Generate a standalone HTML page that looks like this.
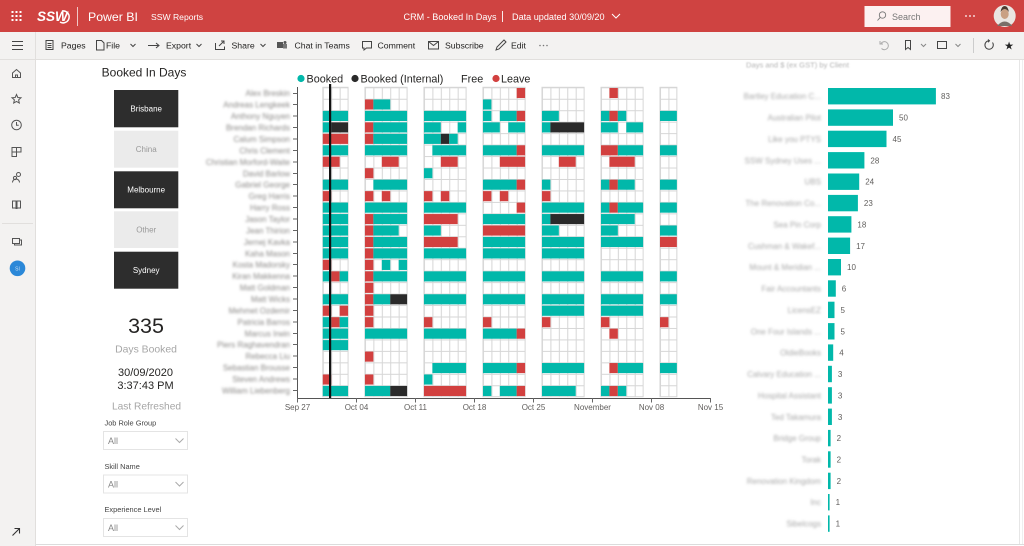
<!DOCTYPE html>
<html><head><meta charset="utf-8">
<style>
html,body{margin:0;padding:0;background:#fff;}
body{width:1024px;height:546px;overflow:hidden;position:relative;font-family:"Liberation Sans",sans-serif;}
svg{position:absolute;left:0;top:0;}
.t{fill:#01B8AA}.d{fill:#2a2a2a}.r{fill:#D2403F}
.tb{font-family:"Liberation Sans",sans-serif;font-size:8.7px;fill:#252423}
.nm{font-family:"Liberation Sans",sans-serif;font-size:8px;fill:#8a8886;text-anchor:end}
.ax{font-family:"Liberation Sans",sans-serif;font-size:8px;fill:#605e5c;text-anchor:middle}
.cl{font-family:"Liberation Sans",sans-serif;font-size:8px;fill:#a8a8a8;text-anchor:end}
.vl{font-family:"Liberation Sans",sans-serif;font-size:8px;fill:#605e5c}
.ic{fill:none;stroke:#444;stroke-width:1}
.nv{fill:none;stroke:#555;stroke-width:1}
</style></head>
<body>
<svg width="1024" height="546" viewBox="0 0 1024 546" xmlns="http://www.w3.org/2000/svg">
<defs>
<filter id="bl" x="-20%" y="-100%" width="140%" height="300%"><feGaussianBlur stdDeviation="1.25"/></filter>
<filter id="bl2" x="-20%" y="-100%" width="140%" height="300%"><feGaussianBlur stdDeviation="0.8"/></filter>
<pattern id="g" x="297.5" y="87.3" width="8.43" height="11.46" patternUnits="userSpaceOnUse">
<rect x="0" y="0" width="8.43" height="11.46" fill="#fff"/>
<path d="M0 0.5H8.43M0.5 0V11.46" stroke="#d6d6d6" stroke-width="1" fill="none"/>
</pattern>
</defs>

<rect x="0" y="0" width="1024" height="546" fill="#fff"/>

<!-- header -->
<rect x="0" y="0" width="1024" height="32" fill="#CF4341"/>
<g fill="#fff">
<rect x="11.5" y="11" width="2" height="2"/><rect x="15.5" y="11" width="2" height="2"/><rect x="19.5" y="11" width="2" height="2"/>
<rect x="11.5" y="15" width="2" height="2"/><rect x="15.5" y="15" width="2" height="2"/><rect x="19.5" y="15" width="2" height="2"/>
<rect x="11.5" y="19" width="2" height="2"/><rect x="15.5" y="19" width="2" height="2"/><rect x="19.5" y="19" width="2" height="2"/>
</g>
<text x="37" y="21" font-family="Liberation Sans" font-weight="bold" font-style="italic" font-size="13.5" fill="#fff">SSW</text>
<path d="M62 11 a6 6 0 1 1 -2 11" fill="none" stroke="#fff" stroke-width="1.5"/>
<line x1="77.5" y1="7" x2="77.5" y2="26" stroke="#fff" stroke-opacity="0.7"/>
<text x="88" y="21" font-family="Liberation Sans" font-size="12.3" fill="#fff">Power BI</text>
<text x="151" y="19.8" font-family="Liberation Sans" font-size="8.6" fill="#fff">SSW Reports</text>
<text x="403.5" y="19.8" font-family="Liberation Sans" font-size="9.1" fill="#fff">CRM - Booked In Days</text>
<line x1="502.5" y1="11" x2="502.5" y2="22" stroke="#fff" stroke-width="0.9"/>
<text x="512" y="19.8" font-family="Liberation Sans" font-size="9.1" fill="#fff">Data updated 30/09/20</text>
<polyline points="612,14 616,18 620,14" fill="none" stroke="#fff" stroke-width="1"/>
<rect x="864.5" y="6" width="86" height="21" fill="#fcf1f1"/>
<circle cx="882.5" cy="15" r="3.2" fill="none" stroke="#777" stroke-width="0.9"/>
<line x1="880.2" y1="17.4" x2="877.5" y2="20.5" stroke="#777" stroke-width="0.9"/>
<text x="892" y="19.8" font-family="Liberation Sans" font-size="9" fill="#777">Search</text>
<g fill="#fff"><circle cx="966" cy="16" r="0.9"/><circle cx="970" cy="16" r="0.9"/><circle cx="974" cy="16" r="0.9"/></g>
<circle cx="1004.7" cy="16" r="11" fill="#eae6e2"/>
<ellipse cx="1004.7" cy="14" rx="4" ry="5" fill="#c9a083"/>
<path d="M1000.5 12 q4.2 -6 8.4 0 q-1 -6 -4.2 -6 q-3.2 0 -4.2 6z" fill="#4a3a30"/>
<path d="M997 26 q7.7 -9 15.4 0z" fill="#7a6f68"/>

<!-- toolbar -->
<rect x="0" y="32" width="1024" height="27" fill="#f3f2f1"/>
<line x1="0" y1="59.5" x2="1024" y2="59.5" stroke="#e1dfdd"/>
<g class="ic">
<path d="M12 41.5H23M12 45.5H23M12 49.5H23"/>
<rect x="46" y="40.5" width="7" height="9"/><path d="M47.5 43.5h4M47.5 45.5h4M47.5 47.5h4"/>
<path d="M96.5 40.5h5l2.5 2.5v7h-7.5z"/>
<polyline points="130.5,44 133,46.5 135.5,44"/>
<path d="M148 45.5h11M156 43l3 2.5-3 2.5" /><path d="M148 45.5h2"/>
<polyline points="196.5,44 199,46.5 201.5,44"/>
<path d="M215.5 43v6.5h9v-3M219 46l5-5M221 41h3v3"/>
<polyline points="260.5,44 263,46.5 265.5,44"/>
<rect x="277" y="42" width="6" height="6" fill="#555" stroke="none"/><circle cx="285" cy="42.5" r="1.5" fill="#555" stroke="none"/><rect x="283" y="44" width="4" height="4.5" fill="#777" stroke="none"/>
<path d="M362.5 41.5h9v6.5h-5l-2.5 2v-2h-1.5z"/>
<rect x="428.5" y="41.5" width="10" height="7.5"/><path d="M428.5 41.5l5 4 5-4"/>
<path d="M496 50l1-3 7-7 2 2-7 7z"/>
</g>
<text class="tb" x="61" y="48.3">Pages</text>
<text class="tb" x="106" y="48.3">File</text>
<text class="tb" x="166" y="48.3">Export</text>
<text class="tb" x="231.5" y="48.3">Share</text>
<text class="tb" x="294.5" y="48.3">Chat in Teams</text>
<text class="tb" x="377.5" y="48.3">Comment</text>
<text class="tb" x="445" y="48.3">Subscribe</text>
<text class="tb" x="511" y="48.3">Edit</text>
<g fill="#777"><circle cx="540" cy="45.5" r="0.8"/><circle cx="543.5" cy="45.5" r="0.8"/><circle cx="547" cy="45.5" r="0.8"/></g>
<g class="ic">
<path d="M881 43.5a4 4 0 1 1 0.5 5" stroke="#aaa"/><path d="M880 41v3h3" stroke="#aaa"/>
<path d="M905.5 40.5h5v9l-2.5-2-2.5 2z"/>
<polyline points="921,44 923.5,46.5 926,44" stroke="#888"/>
<rect x="937.5" y="41.5" width="9" height="7"/>
<polyline points="955.5,44 958,46.5 960.5,44" stroke="#888"/>
<line x1="973.5" y1="38" x2="973.5" y2="53" stroke="#ccc"/>
<path d="M992.5 42.5a4.2 4.2 0 1 1 -3.5 -1.7"/><path d="M988 39.5l1.5 1.3-1.5 1.4"/>
</g>
<text x="1009" y="49.5" font-family="DejaVu Sans" font-size="11" fill="#222" text-anchor="middle">★</text>

<!-- left nav -->
<rect x="0" y="60" width="35" height="486" fill="#f3f2f1"/>
<line x1="35.5" y1="32" x2="35.5" y2="546" stroke="#e1dfdd"/>
<g class="nv">
<path d="M12.5 73l4-3.5 4 3.5v4.5h-8z"/><path d="M15.5 77.5v-2.5h2v2.5"/>
<path d="M16.5 94.5l1.3 3 3.2.3-2.4 2.1.7 3.1-2.8-1.6-2.8 1.6.7-3.1-2.4-2.1 3.2-.3z"/>
<circle cx="16.5" cy="125" r="4.8"/><path d="M16.5 122v3.2h2.2"/>
<rect x="12" y="147.5" width="4.5" height="4.5"/><rect x="16.5" y="147.5" width="4.5" height="4.5"/><rect x="12" y="152" width="4.5" height="4.5"/>
<circle cx="18.5" cy="174.5" r="2"/><path d="M12.5 182.5a3.5 3.5 0 0 1 7 0"/><circle cx="15" cy="178" r="1.6"/>
<path d="M12.5 201h3.5q1 0 1 1v7q0-1-1-1h-3.5zM20.5 201h-3.5q-1 0-1 1v7q0-1 1-1h3.5z"/>
<path d="M12.5 238.5h7v5h-7zM14.5 243.5v1.5h7v-5h-2"/>
</g>
<line x1="2" y1="223.5" x2="33" y2="223.5" stroke="#e1dfdd"/>
<circle cx="17.5" cy="268.3" r="7.8" fill="#2b88d8"/>
<text x="17.5" y="270.5" font-family="Liberation Sans" font-size="5" fill="#cfe3f6" text-anchor="middle">SI</text>
<path d="M12.5 535.5l7-7M14.5 528.5h5v5" fill="none" stroke="#333" stroke-width="1.1"/>

<!-- page borders -->
<line x1="1019.5" y1="60" x2="1019.5" y2="545" stroke="#e6e6e6"/>
<line x1="1022.5" y1="60" x2="1022.5" y2="545" stroke="#efefef"/>
<line x1="36" y1="544.5" x2="1024" y2="544.5" stroke="#dcdcdc"/>

<!-- left report panel -->
<text x="144" y="76.5" font-family="Liberation Sans" font-size="12" fill="#252423" text-anchor="middle">Booked In Days</text>
<rect x="114" y="90" width="64.3" height="37.3" fill="#2d2d2d"/>
<text x="146.2" y="111.5" font-family="Liberation Sans" font-size="8" fill="#fff" text-anchor="middle">Brisbane</text>
<rect x="114" y="130.7" width="64.3" height="37" fill="#ebebeb"/>
<text x="146.2" y="152" font-family="Liberation Sans" font-size="8" fill="#999" text-anchor="middle">China</text>
<rect x="114" y="171.3" width="64.3" height="37" fill="#2d2d2d"/>
<text x="146.2" y="192.6" font-family="Liberation Sans" font-size="8" fill="#fff" text-anchor="middle">Melbourne</text>
<rect x="114" y="211.3" width="64.3" height="36.7" fill="#ebebeb"/>
<text x="146.2" y="232.5" font-family="Liberation Sans" font-size="8" fill="#999" text-anchor="middle">Other</text>
<rect x="114" y="251.7" width="64.3" height="37" fill="#2d2d2d"/>
<text x="146.2" y="273" font-family="Liberation Sans" font-size="8" fill="#fff" text-anchor="middle">Sydney</text>

<text x="146" y="332.8" font-family="Liberation Sans" font-size="21.5" fill="#252423" text-anchor="middle">335</text>
<text x="146" y="352.7" font-family="Liberation Sans" font-size="10.4" fill="#a6a6a6" text-anchor="middle">Days Booked</text>
<text x="145.5" y="376" font-family="Liberation Sans" font-size="11" fill="#252423" text-anchor="middle">30/09/2020</text>
<text x="145.5" y="389" font-family="Liberation Sans" font-size="11" fill="#252423" text-anchor="middle">3:37:43 PM</text>
<text x="146.5" y="409.7" font-family="Liberation Sans" font-size="10.2" fill="#a6a6a6" text-anchor="middle">Last Refreshed</text>

<text x="104.5" y="425.5" font-family="Liberation Sans" font-size="7.4" fill="#444">Job Role Group</text>
<rect x="103.5" y="431.5" width="84" height="18" fill="#fff" stroke="#e4e4e4"/>
<text x="108" y="444" font-family="Liberation Sans" font-size="9" fill="#888">All</text>
<polyline points="175.5,438.5 179.5,442.5 183.5,438.5" fill="none" stroke="#aaa"/>

<text x="104.5" y="468.8" font-family="Liberation Sans" font-size="7.4" fill="#444">Skill Name</text>
<rect x="103.5" y="475" width="84" height="18" fill="#fff" stroke="#e4e4e4"/>
<text x="108" y="487.5" font-family="Liberation Sans" font-size="9" fill="#888">All</text>
<polyline points="175.5,482 179.5,486 183.5,482" fill="none" stroke="#aaa"/>

<text x="104.5" y="512" font-family="Liberation Sans" font-size="7.4" fill="#444">Experience Level</text>
<rect x="103.5" y="518.5" width="84" height="18" fill="#fff" stroke="#e4e4e4"/>
<text x="108" y="531" font-family="Liberation Sans" font-size="9" fill="#888">All</text>
<polyline points="175.5,525.5 179.5,529.5 183.5,525.5" fill="none" stroke="#aaa"/>

<!-- legend -->
<circle cx="301" cy="78.5" r="3.6" fill="#01B8AA"/>
<text x="306.5" y="82.3" font-family="Liberation Sans" font-size="10.8" fill="#252423">Booked</text>
<circle cx="355" cy="78.5" r="3.6" fill="#2a2a2a"/>
<text x="360.5" y="82.3" font-family="Liberation Sans" font-size="10.8" fill="#252423">Booked (Internal)</text>
<text x="461" y="82.3" font-family="Liberation Sans" font-size="10.8" fill="#252423">Free</text>
<circle cx="496" cy="78.5" r="3.6" fill="#D2403F"/>
<text x="501" y="82.3" font-family="Liberation Sans" font-size="10.8" fill="#252423">Leave</text>

<!-- grid blocks -->
<g stroke="#d6d6d6" stroke-width="1" fill="url(#g)">
<rect x="322.79" y="87.3" width="25.29" height="309.42"/>
<rect x="364.94" y="87.3" width="42.15" height="309.42"/>
<rect x="423.95" y="87.3" width="42.15" height="309.42"/>
<rect x="482.96" y="87.3" width="42.15" height="309.42"/>
<rect x="541.97" y="87.3" width="42.15" height="309.42"/>
<rect x="600.98" y="87.3" width="42.15" height="309.42"/>
<rect x="659.99" y="87.3" width="16.86" height="309.42"/>
</g>

<g transform="translate(297.5 87.3) scale(8.43 11.46)">
<rect class="r" x="26" y="0.06" width="1" height="0.88"/><rect class="r" x="37" y="0.06" width="1" height="0.88"/>

<rect class="r" x="8" y="1.06" width="1" height="0.88"/><rect class="t" x="9" y="1.06" width="2" height="0.88"/><rect class="t" x="22" y="1.06" width="1" height="0.88"/>

<rect class="t" x="3" y="2.06" width="3" height="0.88"/><rect class="t" x="8" y="2.06" width="5" height="0.88"/><rect class="t" x="15" y="2.06" width="5" height="0.88"/><rect class="t" x="22" y="2.06" width="1" height="0.88"/><rect class="t" x="24" y="2.06" width="2" height="0.88"/><rect class="r" x="26" y="2.06" width="1" height="0.88"/><rect class="t" x="29" y="2.06" width="2" height="0.88"/><rect class="t" x="36" y="2.06" width="1" height="0.88"/><rect class="r" x="37" y="2.06" width="1" height="0.88"/><rect class="t" x="38" y="2.06" width="1" height="0.88"/><rect class="t" x="43" y="2.06" width="2" height="0.88"/>

<rect class="t" x="3" y="3.06" width="1" height="0.88"/><rect class="d" x="4" y="3.06" width="2" height="0.88"/><rect class="r" x="8" y="3.06" width="1" height="0.88"/><rect class="t" x="9" y="3.06" width="4" height="0.88"/><rect class="t" x="15" y="3.06" width="2" height="0.88"/><rect class="t" x="19" y="3.06" width="1" height="0.88"/><rect class="t" x="22" y="3.06" width="2" height="0.88"/><rect class="t" x="25" y="3.06" width="2" height="0.88"/><rect class="t" x="29" y="3.06" width="1" height="0.88"/><rect class="d" x="30" y="3.06" width="4" height="0.88"/><rect class="t" x="36" y="3.06" width="2" height="0.88"/><rect class="t" x="39" y="3.06" width="2" height="0.88"/>

<rect class="r" x="3" y="4.06" width="3" height="0.88"/><rect class="r" x="8" y="4.06" width="1" height="0.88"/><rect class="t" x="9" y="4.06" width="4" height="0.88"/><rect class="t" x="15" y="4.06" width="2" height="0.88"/><rect class="d" x="17" y="4.06" width="1" height="0.88"/><rect class="t" x="18" y="4.06" width="1" height="0.88"/>

<rect class="t" x="3" y="5.06" width="3" height="0.88"/><rect class="t" x="8" y="5.06" width="5" height="0.88"/><rect class="t" x="16" y="5.06" width="4" height="0.88"/><rect class="t" x="22" y="5.06" width="4" height="0.88"/><rect class="r" x="26" y="5.06" width="1" height="0.88"/><rect class="t" x="29" y="5.06" width="5" height="0.88"/><rect class="r" x="36" y="5.06" width="2" height="0.88"/><rect class="t" x="38" y="5.06" width="3" height="0.88"/><rect class="t" x="43" y="5.06" width="2" height="0.88"/>

<rect class="r" x="3" y="6.06" width="2" height="0.88"/><rect class="r" x="10" y="6.06" width="2" height="0.88"/><rect class="r" x="17" y="6.06" width="2" height="0.88"/><rect class="r" x="24" y="6.06" width="3" height="0.88"/><rect class="r" x="31" y="6.06" width="2" height="0.88"/><rect class="r" x="37" y="6.06" width="3" height="0.88"/>

<rect class="r" x="8" y="7.06" width="1" height="0.88"/><rect class="t" x="15" y="7.06" width="1" height="0.88"/>

<rect class="t" x="3" y="8.06" width="3" height="0.88"/><rect class="t" x="9" y="8.06" width="4" height="0.88"/><rect class="t" x="22" y="8.06" width="4" height="0.88"/><rect class="r" x="26" y="8.06" width="1" height="0.88"/><rect class="t" x="29" y="8.06" width="1" height="0.88"/><rect class="t" x="36" y="8.06" width="1" height="0.88"/><rect class="r" x="37" y="8.06" width="1" height="0.88"/><rect class="t" x="38" y="8.06" width="2" height="0.88"/><rect class="t" x="43" y="8.06" width="2" height="0.88"/>

<rect class="r" x="3" y="9.06" width="1" height="0.88"/><rect class="r" x="8" y="9.06" width="1" height="0.88"/><rect class="r" x="10" y="9.06" width="1" height="0.88"/><rect class="r" x="15" y="9.06" width="1" height="0.88"/><rect class="r" x="17" y="9.06" width="1" height="0.88"/><rect class="r" x="22" y="9.06" width="1" height="0.88"/><rect class="r" x="24" y="9.06" width="1" height="0.88"/><rect class="r" x="29" y="9.06" width="1" height="0.88"/>

<rect class="t" x="3" y="10.06" width="3" height="0.88"/><rect class="t" x="8" y="10.06" width="5" height="0.88"/><rect class="t" x="15" y="10.06" width="5" height="0.88"/><rect class="r" x="26" y="10.06" width="1" height="0.88"/><rect class="t" x="29" y="10.06" width="5" height="0.88"/><rect class="t" x="36" y="10.06" width="1" height="0.88"/><rect class="r" x="37" y="10.06" width="1" height="0.88"/><rect class="t" x="38" y="10.06" width="3" height="0.88"/><rect class="t" x="43" y="10.06" width="2" height="0.88"/>

<rect class="t" x="3" y="11.06" width="3" height="0.88"/><rect class="r" x="8" y="11.06" width="1" height="0.88"/><rect class="t" x="9" y="11.06" width="4" height="0.88"/><rect class="r" x="15" y="11.06" width="4" height="0.88"/><rect class="t" x="22" y="11.06" width="5" height="0.88"/><rect class="t" x="29" y="11.06" width="1" height="0.88"/><rect class="d" x="30" y="11.06" width="4" height="0.88"/><rect class="t" x="36" y="11.06" width="4" height="0.88"/>

<rect class="t" x="3" y="12.06" width="3" height="0.88"/><rect class="r" x="8" y="12.06" width="1" height="0.88"/><rect class="t" x="9" y="12.06" width="3" height="0.88"/><rect class="t" x="15" y="12.06" width="2" height="0.88"/><rect class="r" x="22" y="12.06" width="5" height="0.88"/><rect class="t" x="29" y="12.06" width="2" height="0.88"/><rect class="t" x="36" y="12.06" width="2" height="0.88"/><rect class="t" x="43" y="12.06" width="2" height="0.88"/>

<rect class="t" x="3" y="13.06" width="3" height="0.88"/><rect class="r" x="8" y="13.06" width="1" height="0.88"/><rect class="t" x="9" y="13.06" width="4" height="0.88"/><rect class="r" x="15" y="13.06" width="4" height="0.88"/><rect class="t" x="22" y="13.06" width="5" height="0.88"/><rect class="t" x="29" y="13.06" width="5" height="0.88"/><rect class="t" x="36" y="13.06" width="5" height="0.88"/><rect class="r" x="43" y="13.06" width="2" height="0.88"/>

<rect class="t" x="3" y="14.06" width="3" height="0.88"/><rect class="r" x="8" y="14.06" width="1" height="0.88"/><rect class="t" x="9" y="14.06" width="4" height="0.88"/><rect class="t" x="15" y="14.06" width="5" height="0.88"/><rect class="t" x="22" y="14.06" width="5" height="0.88"/><rect class="t" x="29" y="14.06" width="5" height="0.88"/>

<rect class="r" x="3" y="15.06" width="1" height="0.88"/><rect class="r" x="8" y="15.06" width="1" height="0.88"/><rect class="t" x="10" y="15.06" width="1" height="0.88"/><rect class="t" x="12" y="15.06" width="1" height="0.88"/>

<rect class="t" x="3" y="16.06" width="1" height="0.88"/><rect class="r" x="4" y="16.06" width="1" height="0.88"/><rect class="t" x="5" y="16.06" width="1" height="0.88"/><rect class="r" x="8" y="16.06" width="1" height="0.88"/><rect class="t" x="9" y="16.06" width="4" height="0.88"/><rect class="t" x="15" y="16.06" width="5" height="0.88"/><rect class="t" x="22" y="16.06" width="5" height="0.88"/><rect class="t" x="29" y="16.06" width="5" height="0.88"/><rect class="t" x="36" y="16.06" width="5" height="0.88"/><rect class="t" x="43" y="16.06" width="2" height="0.88"/>

<rect class="r" x="8" y="17.06" width="1" height="0.88"/>

<rect class="t" x="3" y="18.06" width="3" height="0.88"/><rect class="r" x="8" y="18.06" width="1" height="0.88"/><rect class="t" x="9" y="18.06" width="2" height="0.88"/><rect class="d" x="11" y="18.06" width="2" height="0.88"/><rect class="t" x="15" y="18.06" width="5" height="0.88"/><rect class="t" x="22" y="18.06" width="5" height="0.88"/><rect class="t" x="29" y="18.06" width="5" height="0.88"/><rect class="t" x="36" y="18.06" width="5" height="0.88"/><rect class="t" x="43" y="18.06" width="2" height="0.88"/>

<rect class="r" x="3" y="19.06" width="1" height="0.88"/><rect class="r" x="5" y="19.06" width="1" height="0.88"/><rect class="r" x="8" y="19.06" width="1" height="0.88"/><rect class="t" x="29" y="19.06" width="5" height="0.88"/><rect class="t" x="36" y="19.06" width="5" height="0.88"/>

<rect class="t" x="3" y="20.06" width="1" height="0.88"/><rect class="r" x="4" y="20.06" width="1" height="0.88"/><rect class="t" x="5" y="20.06" width="1" height="0.88"/><rect class="r" x="8" y="20.06" width="1" height="0.88"/><rect class="r" x="15" y="20.06" width="1" height="0.88"/><rect class="r" x="22" y="20.06" width="1" height="0.88"/><rect class="r" x="29" y="20.06" width="1" height="0.88"/><rect class="r" x="36" y="20.06" width="1" height="0.88"/><rect class="r" x="43" y="20.06" width="1" height="0.88"/>

<rect class="t" x="3" y="21.06" width="3" height="0.88"/><rect class="t" x="8" y="21.06" width="5" height="0.88"/><rect class="t" x="15" y="21.06" width="5" height="0.88"/><rect class="t" x="22" y="21.06" width="4" height="0.88"/><rect class="r" x="26" y="21.06" width="1" height="0.88"/><rect class="r" x="37" y="21.06" width="1" height="0.88"/>

<rect class="t" x="3" y="22.06" width="3" height="0.88"/>

<rect class="r" x="8" y="23.06" width="1" height="0.88"/>

<rect class="t" x="16" y="24.06" width="4" height="0.88"/><rect class="t" x="22" y="24.06" width="4" height="0.88"/><rect class="r" x="26" y="24.06" width="1" height="0.88"/><rect class="t" x="29" y="24.06" width="5" height="0.88"/><rect class="r" x="37" y="24.06" width="1" height="0.88"/><rect class="t" x="38" y="24.06" width="3" height="0.88"/><rect class="t" x="43" y="24.06" width="2" height="0.88"/>

<rect class="r" x="3" y="25.06" width="1" height="0.88"/><rect class="r" x="8" y="25.06" width="1" height="0.88"/><rect class="t" x="15" y="25.06" width="1" height="0.88"/>

<rect class="t" x="3" y="26.06" width="3" height="0.88"/><rect class="t" x="8" y="26.06" width="3" height="0.88"/><rect class="d" x="11" y="26.06" width="2" height="0.88"/><rect class="r" x="15" y="26.06" width="5" height="0.88"/><rect class="t" x="22" y="26.06" width="1" height="0.88"/><rect class="t" x="24" y="26.06" width="2" height="0.88"/><rect class="r" x="26" y="26.06" width="1" height="0.88"/><rect class="t" x="29" y="26.06" width="4" height="0.88"/><rect class="t" x="36" y="26.06" width="1" height="0.88"/><rect class="r" x="37" y="26.06" width="1" height="0.88"/><rect class="t" x="38" y="26.06" width="1" height="0.88"/>
</g>

<rect x="329" y="84" width="2.2" height="314.5" fill="#111"/>

<line x1="297.5" y1="87" x2="297.5" y2="399" stroke="#555" stroke-width="1"/>
<line x1="297" y1="398.5" x2="711" y2="398.5" stroke="#555" stroke-width="1"/>
<g stroke="#666" stroke-width="1">
<path d="M293 93.5h4.5M293 104.5h4.5M293 116h4.5M293 127.5h4.5M293 139h4.5M293 150.5h4.5M293 162h4.5M293 173.5h4.5M293 184.5h4.5M293 196h4.5M293 207.5h4.5M293 219h4.5M293 230.5h4.5M293 242h4.5M293 253.5h4.5M293 264.5h4.5M293 276h4.5M293 287.5h4.5M293 299h4.5M293 310.5h4.5M293 322h4.5M293 333.5h4.5M293 344.5h4.5M293 356h4.5M293 367.5h4.5M293 379h4.5M293 390.5h4.5"/>
<path d="M297.5 398v4.5M356.5 398v4.5M415.5 398v4.5M474.5 398v4.5M533.5 398v4.5M592.5 398v4.5M651.5 398v4.5M710.5 398v4.5"/>
</g>
<text class="ax" x="297.5" y="410">Sep 27</text>
<text class="ax" x="356.5" y="410">Oct 04</text>
<text class="ax" x="415.5" y="410">Oct 11</text>
<text class="ax" x="474.5" y="410">Oct 18</text>
<text class="ax" x="533.5" y="410">Oct 25</text>
<text class="ax" x="592.5" y="410">November</text>
<text class="ax" x="651.5" y="410">Nov 08</text>
<text class="ax" x="710.5" y="410">Nov 15</text>

<g filter="url(#bl)">
<text class="nm" x="290" y="96">Alex Breskin</text>
<text class="nm" x="290" y="107.5">Andreas Lengkeek</text>
<text class="nm" x="290" y="119">Anthony Nguyen</text>
<text class="nm" x="290" y="130.5">Brendan Richards</text>
<text class="nm" x="290" y="142">Calum Simpson</text>
<text class="nm" x="290" y="153.5">Chris Clement</text>
<text class="nm" x="290" y="165">Christian Morford-Waite</text>
<text class="nm" x="290" y="176.5">David Barlow</text>
<text class="nm" x="290" y="187.5">Gabriel George</text>
<text class="nm" x="290" y="199">Greg Harris</text>
<text class="nm" x="290" y="210.5">Harry Ross</text>
<text class="nm" x="290" y="222">Jason Taylor</text>
<text class="nm" x="290" y="233.5">Jean Thirion</text>
<text class="nm" x="290" y="245">Jernej Kavka</text>
<text class="nm" x="290" y="256.5">Kaha Mason</text>
<text class="nm" x="290" y="267.5">Kosta Madorsky</text>
<text class="nm" x="290" y="279">Kiran Makkenna</text>
<text class="nm" x="290" y="290.5">Matt Goldman</text>
<text class="nm" x="290" y="302">Matt Wicks</text>
<text class="nm" x="290" y="313.5">Mehmet Ozdemir</text>
<text class="nm" x="290" y="325">Patricia Barros</text>
<text class="nm" x="290" y="336.5">Marcus Irwin</text>
<text class="nm" x="290" y="347.5">Piers Raghavendran</text>
<text class="nm" x="290" y="359">Rebecca Liu</text>
<text class="nm" x="290" y="370.5">Sebastian Brousse</text>
<text class="nm" x="290" y="382">Steven Andrews</text>
<text class="nm" x="290" y="393.5">William Liebenberg</text>
</g>

<text x="746" y="67.5" font-family="Liberation Sans" font-size="7.6" fill="#b4b4b4" filter="url(#bl2)">Days and $ (ex GST) by Client</text>
<g fill="#01B8AA">
<rect x="828" y="88" width="107.9" height="16.4"/>
<rect x="828" y="109.4" width="65" height="16.4"/>
<rect x="828" y="130.7" width="58.5" height="16.4"/>
<rect x="828" y="152.1" width="36.4" height="16.4"/>
<rect x="828" y="173.5" width="31.2" height="16.4"/>
<rect x="828" y="194.9" width="29.9" height="16.4"/>
<rect x="828" y="216.2" width="23.4" height="16.4"/>
<rect x="828" y="237.6" width="22.1" height="16.4"/>
<rect x="828" y="259" width="13" height="16.4"/>
<rect x="828" y="280.3" width="7.8" height="16.4"/>
<rect x="828" y="301.7" width="6.5" height="16.4"/>
<rect x="828" y="323.1" width="6.5" height="16.4"/>
<rect x="828" y="344.4" width="5.2" height="16.4"/>
<rect x="828" y="365.8" width="3.9" height="16.4"/>
<rect x="828" y="387.2" width="3.9" height="16.4"/>
<rect x="828" y="408.6" width="3.9" height="16.4"/>
<rect x="828" y="429.9" width="2.6" height="16.4"/>
<rect x="828" y="451.3" width="2.6" height="16.4"/>
<rect x="828" y="472.7" width="2.6" height="16.4"/>
<rect x="828" y="494" width="1.6" height="16.4"/>
<rect x="828" y="515.4" width="1.6" height="16.4"/>
</g>
<text class="vl" x="941" y="99.2">83</text>
<text class="vl" x="899" y="120.6">50</text>
<text class="vl" x="892.5" y="141.9">45</text>
<text class="vl" x="870.4" y="163.3">28</text>
<text class="vl" x="865.2" y="184.7">24</text>
<text class="vl" x="863.9" y="206.1">23</text>
<text class="vl" x="857.4" y="227.4">18</text>
<text class="vl" x="856.1" y="248.8">17</text>
<text class="vl" x="847" y="270.2">10</text>
<text class="vl" x="841.8" y="291.5">6</text>
<text class="vl" x="840.5" y="312.9">5</text>
<text class="vl" x="840.5" y="334.3">5</text>
<text class="vl" x="839.2" y="355.6">4</text>
<text class="vl" x="837.9" y="377">3</text>
<text class="vl" x="837.9" y="398.4">3</text>
<text class="vl" x="837.9" y="419.8">3</text>
<text class="vl" x="836.6" y="441.1">2</text>
<text class="vl" x="836.6" y="462.5">2</text>
<text class="vl" x="836.6" y="483.9">2</text>
<text class="vl" x="835.6" y="505.2">1</text>
<text class="vl" x="835.6" y="526.6">1</text>
<g filter="url(#bl)">
<text class="cl" x="821" y="99.2">Bartley Education C...</text>
<text class="cl" x="821" y="120.6">Australian Pilot</text>
<text class="cl" x="821" y="141.9">Like you PTYS</text>
<text class="cl" x="821" y="163.3">SSW Sydney Uses ...</text>
<text class="cl" x="821" y="184.7">UBS</text>
<text class="cl" x="821" y="206.1">The Renovation Co...</text>
<text class="cl" x="821" y="227.4">Sea Pin Corp</text>
<text class="cl" x="821" y="248.8">Cushman &amp; Wakef...</text>
<text class="cl" x="821" y="270.2">Mount &amp; Meridian ...</text>
<text class="cl" x="821" y="291.5">Fair Accountants</text>
<text class="cl" x="821" y="312.9">LicensEZ</text>
<text class="cl" x="821" y="334.3">One Four Islands ...</text>
<text class="cl" x="821" y="355.6">OldieBooks</text>
<text class="cl" x="821" y="377">Calvary Education ...</text>
<text class="cl" x="821" y="398.4">Hospital Assistant</text>
<text class="cl" x="821" y="419.8">Ted Takamura</text>
<text class="cl" x="821" y="441.1">Bridge Group</text>
<text class="cl" x="821" y="462.5">Torak</text>
<text class="cl" x="821" y="483.9">Renovation Kingdom</text>
<text class="cl" x="821" y="505.2">Inc</text>
<text class="cl" x="821" y="526.6">Sibelcogs</text>
</g>
</svg>
</body></html>
